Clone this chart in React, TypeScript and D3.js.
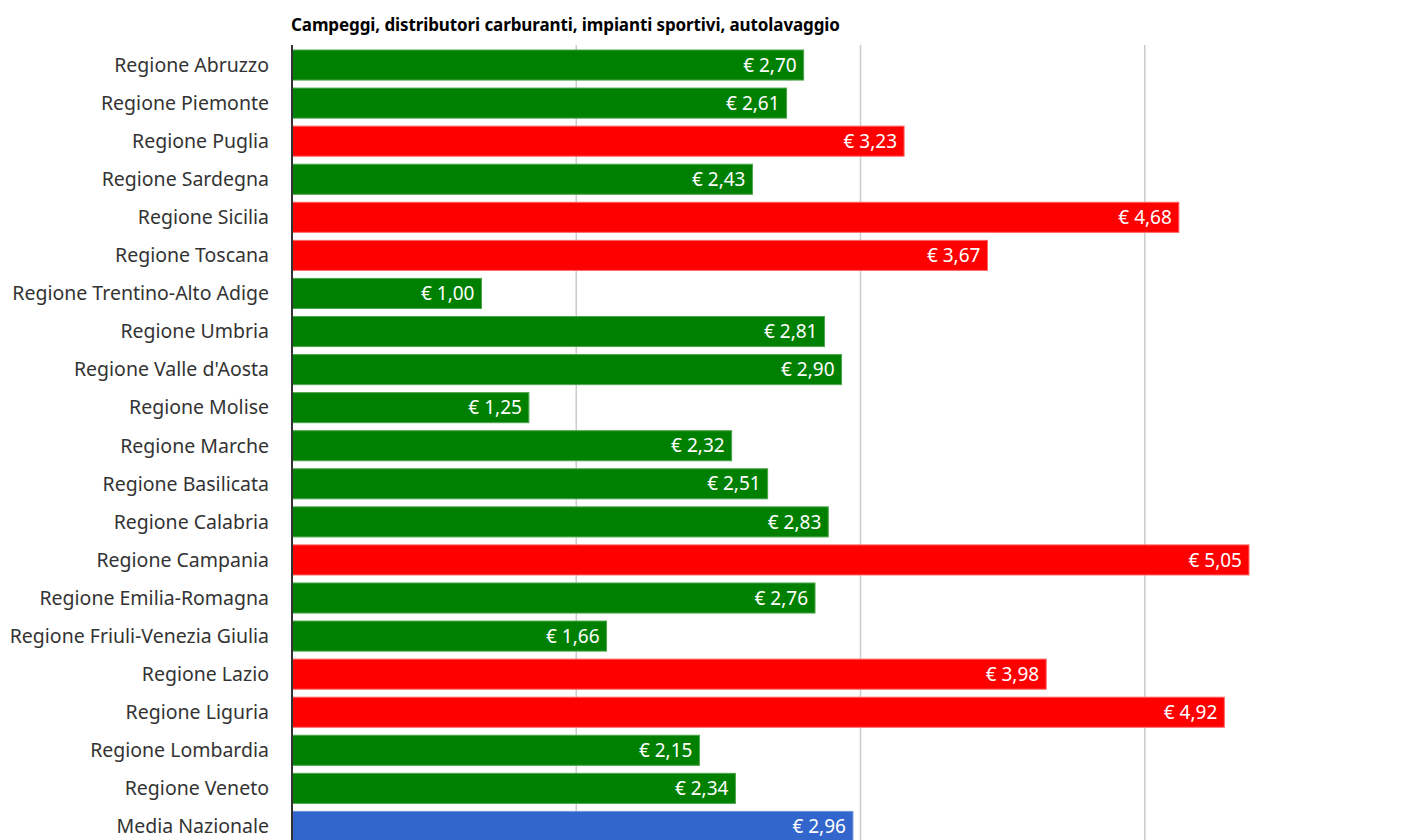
import React from "react";
import * as d3 from "d3";

const categories = [
  "Regione Abruzzo",
  "Regione Piemonte",
  "Regione Puglia",
  "Regione Sardegna",
  "Regione Sicilia",
  "Regione Toscana",
  "Regione Trentino-Alto Adige",
  "Regione Umbria",
  "Regione Valle d'Aosta",
  "Regione Molise",
  "Regione Marche",
  "Regione Basilicata",
  "Regione Calabria",
  "Regione Campania",
  "Regione Emilia-Romagna",
  "Regione Friuli-Venezia Giulia",
  "Regione Lazio",
  "Regione Liguria",
  "Regione Lombardia",
  "Regione Veneto",
  "Media Nazionale",
];
const values = [2.7, 2.61, 3.23, 2.43, 4.68, 3.67, 1.0, 2.81, 2.9, 1.25, 2.32, 2.51, 2.83, 5.05, 2.76, 1.66, 3.98, 4.92, 2.15, 2.34, 2.96];
const kinds = ["g", "g", "r", "g", "r", "r", "g", "g", "g", "g", "g", "g", "g", "r", "g", "g", "r", "r", "g", "g", "m"];
const gridTicks = [1.5, 3, 4.5];
const title = "Campeggi, distributori carburanti, impianti sportivi, autolavaggio";

const colorOf: Record<string, string> = { g: "#008000", r: "#ff0000", m: "#3366cc" };
const strokeOf: Record<string, string> = { g: "#4da64d", r: "#ff6666", m: "#6f94db" };

export default function App() {
  const W = 1422;
  const H = 840;
  const left = 292;
  const top = 46;
  const x = d3.scaleLinear().domain([0, 6]).range([left, left + 1137]);
  const y = d3
    .scaleBand<string>()
    .domain(categories)
    .range([top, top + categories.length * 38.07])
    .paddingInner(0.21)
    .paddingOuter(0.105);
  const fmt = (v: number) => "€ " + d3.format(".2f")(v).replace(".", ",");
  const font = "'Noto Sans', 'Open Sans', sans-serif";
  return (
    <svg width={W} height={H} style={{ position: "absolute", left: 0, top: 0, background: "#fff" }} fontFamily={font}>
      <text x={291} y={31} fontSize={17} fontWeight="bold" fill="#000" letterSpacing={-0.1}>
        {title}
      </text>
      {gridTicks.map((t) => (
        <line key={t} x1={x(t)} x2={x(t)} y1={45} y2={H} stroke="#cccccc" strokeWidth={1.5} />
      ))}
      {categories.map((c, i) => {
        const by = y(c)!;
        const bh = y.bandwidth();
        const k = kinds[i];
        return (
          <g key={c}>
            <rect x={x(0)} y={by} width={x(values[i]) - x(0)} height={bh} fill={colorOf[k]} stroke={strokeOf[k]} strokeWidth={1} />
            <text x={x(values[i]) - 7} y={by + bh / 2} dy="0.35em" textAnchor="end" fontSize={19} fill="#ffffff">
              {fmt(values[i])}
            </text>
            <text x={269} y={by + bh / 2} dy="0.35em" textAnchor="end" fontSize={19.5} fill="#333333">
              {c}
            </text>
          </g>
        );
      })}
      <line x1={x(0)} x2={x(0)} y1={45} y2={H} stroke="#333333" strokeWidth={2} />
    </svg>
  );
}
